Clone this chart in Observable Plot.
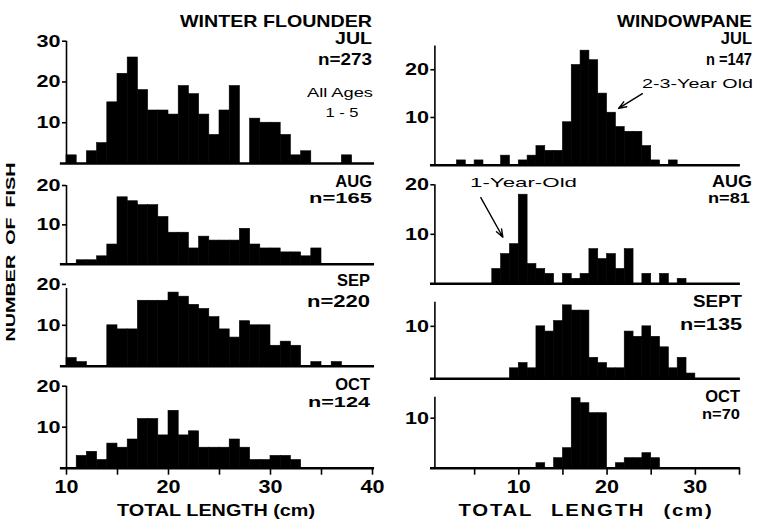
<!DOCTYPE html>
<html>
<head>
<meta charset="utf-8">
<script src="https://cdn.jsdelivr.net/npm/d3@7"></script>
<script src="https://cdn.jsdelivr.net/npm/@observablehq/plot@0.6"></script>
<style>
  html, body { margin: 0; padding: 0; background: #fff; overflow: hidden; }
  #chart { position: relative; width: 758px; height: 521px; overflow: hidden; background: #fff; }
  #chart svg { position: absolute; left: 0; top: 0; }
</style>
</head>
<body>
<div id="chart"></div>
<script>
// ---------------- DATA ----------------
// Winter flounder: lower edge of 1-cm length class (cm) and number of fish
const flounderJulLength = [10,11,12,13,14,15,16,17,18,19,20,21,22,23,24,25,26,27,28,29,30,31,32,33,34,35,36,37];
const flounderJulCount  = [ 2, 0, 3, 5,15,22,26,18,13,13,12,19,17,12, 7,13,19, 0,11,10,10, 7, 2, 3, 0, 0, 0, 2];

const flounderAugLength = [11,12,13,14,15,16,17,18,19,20,21,22,23,24,25,26,27,28,29,30,31,32,33,34];
const flounderAugCount  = [ 1, 1, 2, 5,17,16,15,15,12, 8, 8, 4, 7, 6, 6, 6, 9, 5, 4, 4, 3, 3, 2, 4];

const flounderSepLength = [10,11,14,15,16,17,18,19,20,21,22,23,24,25,26,27,28,29,30,31,32,34,36];
const flounderSepCount  = [ 2, 1,10, 9, 9,16,16,16,18,17,15,14,12, 9, 7,11,10,10, 5, 6, 5, 1, 1];

const flounderOctLength = [11,12,13,14,15,16,17,18,19,20,21,22,23,24,25,26,27,28,29,30,31,32];
const flounderOctCount  = [ 3, 4, 2, 6, 5, 7,12,12, 8,14, 8, 9, 5, 5, 5, 7, 5, 2, 2, 3, 3, 2];

// Windowpane
const windowJulLength = [3,5,8,10,11,12,13,14,15,16,17,18,19,20,21,22,23,24,25,27];
const windowJulCount  = [1,1,2, 1, 2, 4, 3, 3, 9,21,24,22,15,11, 8, 7, 7, 4, 1, 1];

const windowAugLength = [7,8,9,10,11,12,13,15,16,17,18,19,20,21,22,24,26,28];
const windowAugCount  = [3,6,8,18, 4, 3, 2, 2, 1, 2, 7, 5, 6, 3, 7, 2, 2, 1];

const windowSepLength = [9,10,11,12,13,14,15,16,17,18,19,20,21,22,23,24,25,26,27,28,29];
const windowSepCount  = [2, 3, 2,10, 9,11,14,13,13, 4, 3, 2, 2, 9, 8,10, 8, 6, 2, 4, 1];

const windowOctLength = [12,14,15,16,17,18,19,21,22,23,24,25];
const windowOctCount  = [ 1, 2, 4,14,13,11,11, 1, 2, 2, 3, 2];

// tick values / labels
const flounderXTicks = [10,15,20,25,30,35,40];
const windowXTicks   = [5,10,15,20,25,30,35];

// panel texts
const speciesNames = ["WINTER FLOUNDER", "WINDOWPANE"];
const monthLabels  = ["JUL","AUG","SEP","OCT","JUL","AUG","SEPT","OCT"];
const sampleLabels = ["n=273","n=165","n=220","n=124","n =147","n=81","n=135","n=70"];
const yTitle = "NUMBER OF FISH";
const xTitle = "TOTAL LENGTH (cm)";

// ---------------- LAYOUT ----------------
const W = 758, H = 521;
const FONT = "'Liberation Sans', Arial, Helvetica, sans-serif";

const columns = {
  left:  { domain: [10, 40],  x0: 66,    x1: 372, xTicks: flounderXTicks, over: [0.6, 0.2] },
  right: { domain: [0.5, 35], x0: 434.4, x1: 739, xTicks: windowXTicks,   over: [0.5, 0.1] }
};

const panels = [
  { col: "left",  len: flounderJulLength, cnt: flounderJulCount, yMax: 30,   top: 40.7,  zero: 163,   yTicks: [10,20,30] },
  { col: "left",  len: flounderAugLength, cnt: flounderAugCount, yMax: 20,   top: 185,   zero: 263.7, yTicks: [10,20] },
  { col: "left",  len: flounderSepLength, cnt: flounderSepCount, yMax: 19,   top: 288,   zero: 365.7, yTicks: [10,20] },
  { col: "left",  len: flounderOctLength, cnt: flounderOctCount, yMax: 20,   top: 385.7, zero: 467.7, yTicks: [10,20], bottom: true },
  { col: "right", len: windowJulLength,   cnt: windowJulCount,   yMax: 25,   top: 45.4,  zero: 164.7, yTicks: [10,20] },
  { col: "right", len: windowAugLength,   cnt: windowAugCount,   yMax: 20,   top: 184.3, zero: 283.3, yTicks: [10,20] },
  { col: "right", len: windowSepLength,   cnt: windowSepCount,   yMax: 14.6, top: 301.7, zero: 378.3, yTicks: [10] },
  { col: "right", len: windowOctLength,   cnt: windowOctCount,   yMax: 14.2, top: 396.7, zero: 467.7, yTicks: [10], bottom: true }
];

// annotation arrows, in data units of their panel (panel index)
const arrows = [
  { panel: 4, x1: 24.0, y1: 15.0, x2: 21.3, y2: 11.9 },
  { panel: 5, x1: 5.7,  y1: 17.4, x2: 8.2,  y2: 9.4 }
];

const chart = document.getElementById("chart");

panels.forEach((p, i) => {
  const c = columns[p.col];
  const data = p.len.map((l, k) => ({ x1: l, x2: l + 1, count: p.cnt[k] }));
  const marks = [
    Plot.rectY(data, { x1: "x1", x2: "x2", y: "count", fill: "black", stroke: "black", strokeWidth: 0.6 }),
    Plot.ruleX([c.domain[0]], { y1: 0, y2: p.yMax, stroke: "black", strokeWidth: 1.6 }),
    Plot.ruleY([0], { x1: c.domain[0] - c.over[0], x2: c.domain[1] + c.over[1], stroke: "black", strokeWidth: 2.4 }),
    Plot.axisY(p.yTicks, { anchor: "left", tickSize: 4, tickPadding: 2, fontSize: 17, fontWeight: "bold", tickFormat: d => d, strokeWidth: 1.6, label: null })
  ];
  if (p.bottom) {
    marks.push(Plot.axisX(c.xTicks, { anchor: "bottom", tickSize: 7, tickPadding: 5, fontSize: 18, fontWeight: "bold",
      tickFormat: d => (d % 10 === 0 ? d : ""), strokeWidth: 1.6, label: null }));
  }
  arrows.filter(a => a.panel === i).forEach(a => {
    marks.push(Plot.arrow([a], { x1: "x1", y1: "y1", x2: "x2", y2: "y2", stroke: "black", strokeWidth: 1.4, headLength: 9, headAngle: 40 }));
  });
  const svg = Plot.plot({
    width: W, height: H,
    marginLeft: c.x0, marginRight: W - c.x1, marginTop: p.top, marginBottom: H - p.zero,
    x: { domain: c.domain, axis: null },
    y: { domain: [0, p.yMax], axis: null },
    style: { fontFamily: FONT, background: "transparent", color: "black", overflow: "visible" },
    marks
  });
  // widen the tick labels like the original's broad lettering
  d3.select(svg).selectAll("g[aria-label$='tick label'] text").each(function () {
    const s = this.textContent;
    if (s.length) d3.select(this).attr("textLength", s.length * 12).attr("lengthAdjust", "spacingAndGlyphs");
  });
  chart.appendChild(svg);
});

// ---------------- TEXT OVERLAY ----------------
const texts = [
  { t: speciesNames[0], x: 372, y: 27,  size: 16.5, len: 192 },
  { t: monthLabels[0],  x: 372, y: 43.5, size: 16.5, len: 37 },
  { t: sampleLabels[0], x: 372, y: 65,  size: 16.5, len: 54 },
  { t: "All Ages",      x: 373, y: 97,  size: 13.5, len: 66, weight: "normal" },
  { t: "1 - 5",         x: 342, y: 117, size: 13.5, len: 33, anchor: "middle", weight: "normal" },
  { t: monthLabels[1],  x: 372, y: 187, size: 16.5 },
  { t: sampleLabels[1], x: 372, y: 202.5, size: 15.5, len: 63 },
  { t: monthLabels[2],  x: 370, y: 286, size: 16.5 },
  { t: sampleLabels[2], x: 370, y: 307, size: 16.5, len: 63 },
  { t: monthLabels[3],  x: 370, y: 390, size: 16.5 },
  { t: sampleLabels[3], x: 370, y: 407, size: 15.5, len: 62 },
  { t: speciesNames[1], x: 752, y: 27,  size: 16.5, len: 135 },
  { t: monthLabels[4],  x: 752, y: 43.5, size: 16.5 },
  { t: sampleLabels[4], x: 752, y: 65,  size: 16.5, len: 46 },
  { t: "2-3-Year Old",  x: 753, y: 88,  size: 13.5, len: 111, weight: "normal" },
  { t: monthLabels[5],  x: 752, y: 187, size: 16.5, len: 40 },
  { t: sampleLabels[5], x: 750, y: 203, size: 15.5, len: 42 },
  { t: "1-Year-Old",    x: 470, y: 187, size: 13.5, len: 107, anchor: "start", weight: "normal" },
  { t: monthLabels[6],  x: 742, y: 307, size: 16.5, len: 49 },
  { t: sampleLabels[6], x: 742, y: 330, size: 16.5, len: 62 },
  { t: monthLabels[7],  x: 740, y: 402, size: 16.5 },
  { t: sampleLabels[7], x: 740, y: 418.5, size: 15, len: 38 },
  { t: xTitle, x: 216, y: 516, size: 17, len: 198, anchor: "middle" },
  { t: xTitle, x: 586, y: 516, size: 17, len: 255, anchor: "middle", wordSpacing: 9, letterSpacing: 1.5 }
];

const overlay = d3.select(chart).append("svg")
  .attr("width", W).attr("height", H)
  .style("font-family", FONT).style("pointer-events", "none");

texts.forEach(d => {
  const el = overlay.append("text")
    .attr("x", d.x).attr("y", d.y)
    .attr("text-anchor", d.anchor || "end")
    .attr("font-size", d.size)
    .attr("font-weight", d.weight || "bold")
    .attr("fill", "black")
    .text(d.t);
  if (d.wordSpacing) el.attr("word-spacing", d.wordSpacing);
  if (d.letterSpacing) el.attr("letter-spacing", d.letterSpacing);
  if (d.len) el.attr("textLength", d.len).attr("lengthAdjust", "spacingAndGlyphs");
});

overlay.append("text")
  .attr("transform", "translate(15,252) rotate(-90)")
  .attr("text-anchor", "middle")
  .attr("font-size", 13.5)
  .attr("font-weight", "bold")
  .attr("word-spacing", 3)
  .attr("textLength", 179).attr("lengthAdjust", "spacingAndGlyphs")
  .text(yTitle);
</script>
</body>
</html>
